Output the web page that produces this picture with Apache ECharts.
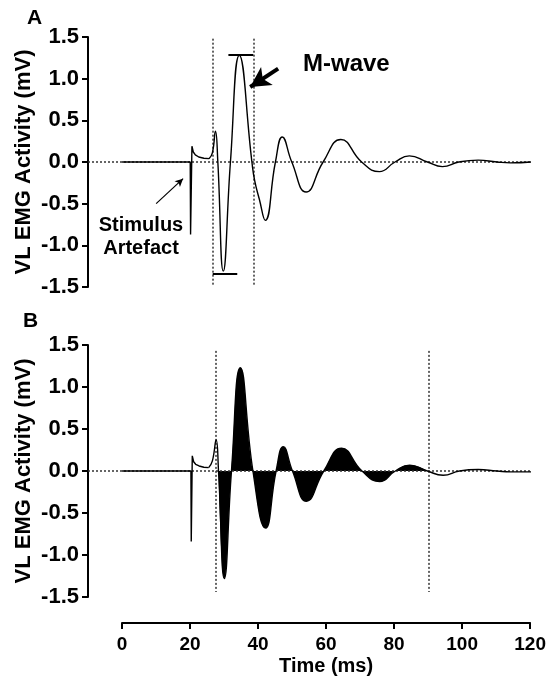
<!DOCTYPE html>
<html>
<head>
<meta charset="utf-8">
<script src="https://cdn.jsdelivr.net/npm/echarts@6/dist/echarts.min.js"></script>
<style>
html,body{margin:0;padding:0;background:#fff;}
#main{width:549px;height:682px;}
</style>
</head>
<body>
<div id="main"></div>
<script>
// time in ms, activity in mV
var timeMin = 0, timeMax = 120, timeStep = 20;
var mvMin = -1.5, mvMax = 1.5, mvStep = 0.5;

// panel A : raw trace (artefact part drawn straight, wave part smoothed)
var artefactA = [[0,0],[20.0,0],[20.1,-0.87],[20.5,0.19],[20.9,0.12],[21.5,0.085],[22.5,0.06],[24.0,0.045],[25.5,0.04]];
var waveA = [[25.5,0.04],[26.5,0.11],[27.4,0.37],[28.1,0],[29.7,-1.31],[31.8,0],[34.4,1.28],[38.1,0],[38.9,-0.22],[40.3,-0.45],[42.0,-0.70],[45.0,0],[47.0,0.30],[49.8,0],[54.0,-0.36],[59.0,0],[64.2,0.27],[70.3,0],[75.5,-0.115],[80.1,0],[84.3,0.074],[89.6,0],[94.0,-0.055],[98.8,0],[104.5,0.022],[110.0,0],[114.0,-0.01],[120.0,0]];
var windowA = [26.6, 38.5];          // dotted verticals
var peakBar = [31.2, 38.5, 1.29];     // from, to, level
var troughBar = [26.6, 33.8, -1.335];

// panel B : same trace, area between dotted lines filled
var artefactB = [[0,0],[20.2,0],[20.3,-0.84],[20.6,0.18],[21.0,0.11],[21.6,0.08],[22.6,0.06],[24.0,0.045],[25.4,0.04]];
var waveB = [[25.4,0.04],[26.5,0.12],[27.6,0.37],[28.3,0],[30.0,-1.28],[32.1,0],[34.7,1.23],[38.4,0],[42.1,-0.68],[45.2,0],[47.3,0.29],[50.0,0],[54.1,-0.36],[59.2,0],[64.4,0.27],[70.4,0],[75.6,-0.125],[80.2,0],[84.4,0.07],[89.6,0],[94.2,-0.05],[99.0,0],[104.5,0.017],[110.0,0],[114.0,-0.01],[120.0,-0.01]];
var windowB = [27.6, 90];
var fillFrom = 28.3, fillTo = 89.6;

var FONT = 'Liberation Sans';
var dotted = {color:'#333', width:1.5, type:[2,2]};

function yAxisFor(gridIndex){
	return {
		gridIndex: gridIndex, type:'value', min:mvMin, max:mvMax, interval:mvStep,
		name:'VL EMG Activity (mV)', nameLocation:'middle', nameRotate:90, nameGap:53,
		nameMoveOverlap:false,
		nameTextStyle:{fontFamily:FONT, fontWeight:'bold', fontSize:22, color:'#000'},
		axisLine:{show:true, onZero:false, lineStyle:{color:'#000', width:2}},
		axisTick:{show:true, length:6, lineStyle:{color:'#000', width:2}},
		axisLabel:{fontFamily:FONT, fontWeight:'bold', fontSize:22, color:'#000', margin:9,
			formatter:function(v){ return v.toFixed(1); }},
		splitLine:{show:false}
	};
}
function hiddenX(gridIndex){
	return {gridIndex:gridIndex, type:'value', min:-10, max:timeMax, show:false, splitLine:{show:false}};
}
function vline(t, top, bottom){
	return [{coord:[t, top], symbol:'none', lineStyle:dotted}, {coord:[t, bottom], symbol:'none'}];
}
function hbar(b){
	return [{coord:[b[0], b[2]], symbol:'none', lineStyle:{color:'#000', width:2, type:'solid'}}, {coord:[b[1], b[2]], symbol:'none'}];
}
function traceLine(name, data, xi, smooth){
	return {
		name:name, type:'line', xAxisIndex:xi, yAxisIndex:xi, data:data, smooth:smooth,
		symbol:'none', lineStyle:{color:'#000', width:1.4}, z:5
	};
}

var fillData = waveB.filter(function(p){ return p[0] >= fillFrom && p[0] <= fillTo; });

var waveASeries = traceLine('waveA', waveA, 0, 0.5);
waveASeries.markLine = {
	silent:true, symbol:'none', animation:false, label:{show:false},
	data:[
		{yAxis:0, lineStyle:dotted},
		vline(windowA[0], 1.48, -1.48),
		vline(windowA[1], 1.48, -1.48),
		hbar(peakBar),
		hbar(troughBar),
		[{coord:[45.8, 1.12], symbol:'none', lineStyle:{color:'#000', width:4, type:'solid'}}, {coord:[37.6, 0.9], symbol:'arrow', symbolSize:[16,20]}],
		[{coord:[10.0, -0.50], symbol:'none', lineStyle:{color:'#000', width:1.2, type:'solid'}}, {coord:[17.9, -0.20], symbol:'arrow', symbolSize:[6,8]}]
	]
};

var waveBSeries = traceLine('waveB', waveB, 1, 0.5);
waveBSeries.markLine = {
	silent:true, symbol:'none', animation:false, label:{show:false},
	data:[
		{yAxis:0, lineStyle:dotted},
		vline(windowB[0], 1.43, -1.44),
		vline(windowB[1], 1.43, -1.44)
	]
};

var option = {
	animation:false,
	backgroundColor:'#fff',
	grid:[
		{left:88, right:18, top:37, height:250},
		{left:88, right:18, top:345, height:252},
		{left:122, right:18, top:622, height:1}
	],
	xAxis:[
		hiddenX(0),
		hiddenX(1),
		{
			gridIndex:2, type:'value', min:timeMin, max:timeMax, interval:timeStep, position:'bottom',
			name:'Time (ms)', nameLocation:'middle', nameGap:33,
			nameTextStyle:{fontFamily:FONT, fontWeight:'bold', fontSize:20, color:'#000'},
			axisLine:{show:true, onZero:false, lineStyle:{color:'#000', width:2}},
			axisTick:{show:true, length:6, lineStyle:{color:'#000', width:2}},
			axisLabel:{fontFamily:FONT, fontWeight:'bold', fontSize:19, color:'#000', margin:12},
			splitLine:{show:false}
		}
	],
	yAxis:[
		yAxisFor(0),
		yAxisFor(1),
		{gridIndex:2, type:'value', show:false, min:0, max:1}
	],
	series:[
		traceLine('artefactA', artefactA, 0, false),
		waveASeries,
		{
			name:'fillB', type:'line', xAxisIndex:1, yAxisIndex:1, data:fillData, smooth:0.5,
			symbol:'none', lineStyle:{width:0, color:'#000'}, areaStyle:{color:'#000', opacity:1}, z:4
		},
		traceLine('artefactB', artefactB, 1, false),
		waveBSeries
	],
	graphic:[
		{type:'text', left:27, top:8, style:{text:'A', font:'bold 21px "Liberation Sans"', fill:'#000'}},
		{type:'text', left:23, top:311, style:{text:'B', font:'bold 21px "Liberation Sans"', fill:'#000'}},
		{type:'text', left:303, top:52, style:{text:'M-wave', font:'bold 24px "Liberation Sans"', fill:'#000'}},
		{type:'text', x:141, y:215, style:{text:'Stimulus', font:'bold 20px "Liberation Sans"', fill:'#000', align:'center'}},
		{type:'text', x:141, y:238, style:{text:'Artefact', font:'bold 20px "Liberation Sans"', fill:'#000', align:'center'}}
	]
};

var chart = echarts.init(document.getElementById('main'), null, {renderer:'canvas'});
chart.setOption(option);
</script>
</body>
</html>
